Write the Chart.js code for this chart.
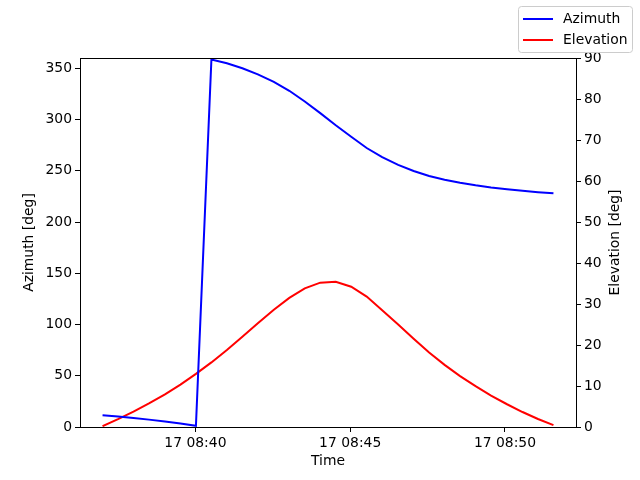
<!DOCTYPE html>
<html>
<head>
<meta charset="utf-8">
<script src="https://cdn.jsdelivr.net/npm/chart.js@4/dist/chart.umd.min.js"></script>
<style>
  html, body { margin: 0; padding: 0; background: #fff; }
  #wrap { width: 640px; height: 480px; }
</style>
</head>
<body>
<div id="wrap"><canvas id="chart" width="640" height="480"></canvas></div>
<script>
'use strict';

/* ── Data ── */
const times = [
  '08:37:00', '08:37:30', '08:38:00', '08:38:30', '08:39:01', '08:39:31',
  '08:40:01', '08:40:31', '08:41:01', '08:41:31', '08:42:01', '08:42:32',
  '08:43:02', '08:43:32', '08:44:02', '08:44:32', '08:45:02', '08:45:32',
  '08:46:02', '08:46:33', '08:47:03', '08:47:33', '08:48:03', '08:48:33',
  '08:49:03', '08:49:33', '08:50:04', '08:50:34', '08:51:04', '08:51:34'
];
const azimuth = [
  11.5, 10.2, 8.8, 7.2, 5.4, 3.4,
  1.2, 358.5, 354.8, 350.0, 344.0, 336.8,
  328.0, 317.6, 306.2, 294.4, 283.2, 272.2,
  263.2, 255.8, 249.8, 244.9, 241.3, 238.3,
  235.8, 233.7, 231.9, 230.4, 229.1, 228.0
];
const elevation = [
  0.2, 1.9, 3.75, 5.75, 7.95, 10.35,
  12.95, 15.75, 18.8, 22.0, 25.3, 28.6,
  31.5, 33.8, 35.2, 35.4, 34.2, 31.8,
  28.5, 25.0, 21.5, 18.15, 15.15, 12.4,
  9.95, 7.65, 5.55, 3.65, 1.95, 0.45
];
const azTicks = [0, 50, 100, 150, 200, 250, 300, 350];
const elTicks = [0, 10, 20, 30, 40, 50, 60, 70, 80, 90];
const timeTicks = ['08:40', '08:45', '08:50'];
const dayLabel = '17';

/* ── Helpers ── */
// minutes since midnight
function toMin(s) {
  const p = s.split(':').map(Number);
  return p[0] * 60 + p[1] + (p[2] || 0) / 60;
}
function pad2(n) { return String(n).padStart(2, '0'); }

const xs = times.map(toMin);
const xMin = Math.min(...xs), xMax = Math.max(...xs);
const xPad = (xMax - xMin) * 0.05;   // matplotlib default margin

const FONT = { family: "'DejaVu Sans', sans-serif", size: 13.9 };
const FONT_CSS = `${FONT.size}px ${FONT.family}`;

/* ── Plugins ── */
const framePlugin = {
  id: 'frame',
  afterDatasetsDraw(chart) {
    const { ctx, chartArea: a } = chart;
    ctx.save();
    ctx.strokeStyle = '#000';
    ctx.lineWidth = 1;
    ctx.strokeRect(Math.round(a.left) + 0.5, Math.round(a.top) + 0.5,
                   Math.round(a.right - a.left), Math.round(a.bottom - a.top));
    ctx.restore();
  }
};

// right axis title reads bottom-to-top like matplotlib's
const rightTitlePlugin = {
  id: 'rightTitle',
  afterDraw(chart) {
    const { ctx, chartArea: a } = chart;
    ctx.save();
    ctx.translate(615, (a.top + a.bottom) / 2);
    ctx.rotate(-Math.PI / 2);
    ctx.font = FONT_CSS;
    ctx.fillStyle = '#000';
    ctx.textAlign = 'center';
    ctx.textBaseline = 'middle';
    ctx.fillText('Elevation [deg]', 0, 0);
    ctx.restore();
  }
};

const legendPlugin = {
  id: 'figLegend',
  afterDraw(chart) {
    const ctx = chart.ctx;
    const box = { x: 518.5, y: 6.5, w: 114, h: 46, r: 3 };
    ctx.save();
    ctx.beginPath();
    ctx.roundRect(box.x, box.y, box.w, box.h, box.r);
    ctx.fillStyle = 'rgba(255,255,255,0.8)';
    ctx.fill();
    ctx.strokeStyle = '#cccccc';
    ctx.lineWidth = 1;
    ctx.stroke();
    ctx.font = FONT_CSS;
    ctx.textBaseline = 'middle';
    ctx.fillStyle = '#000';
    chart.data.datasets.forEach((ds, i) => {
      const y = 19 + i * 21;
      ctx.beginPath();
      ctx.moveTo(523, y);
      ctx.lineTo(553, y);
      ctx.strokeStyle = ds.borderColor;
      ctx.lineWidth = 2;
      ctx.stroke();
      ctx.fillText(ds.label, 563, y);
    });
    ctx.restore();
  }
};

/* ── Chart ── */
const axisCommon = {
  grid: { drawOnChartArea: false, color: '#000', tickLength: 5, lineWidth: 1 },
  border: { display: false },
  ticks: { color: '#000', font: FONT, padding: 3 }
};

new Chart(document.getElementById('chart'), {
  type: 'line',
  data: {
    datasets: [
      {
        label: 'Azimuth',
        data: xs.map((x, i) => ({ x, y: azimuth[i] })),
        borderColor: '#0000ff',
        borderWidth: 2,
        pointRadius: 0,
        tension: 0,
        yAxisID: 'yA'
      },
      {
        label: 'Elevation',
        data: xs.map((x, i) => ({ x, y: elevation[i] })),
        borderColor: '#ff0000',
        borderWidth: 2,
        pointRadius: 0,
        tension: 0,
        yAxisID: 'yE'
      }
    ]
  },
  options: {
    responsive: false,
    animation: false,
    devicePixelRatio: 1,
    layout: { padding: { top: 58, left: 0, right: 0, bottom: 0 } },
    plugins: { legend: { display: false }, tooltip: { enabled: false } },
    scales: {
      x: {
        ...axisCommon,
        type: 'linear',
        min: xMin - xPad,
        max: xMax + xPad,
        afterBuildTicks: s => { s.ticks = timeTicks.map(t => ({ value: toMin(t) })); },
        afterFit: s => { s.height = 53; },
        ticks: {
          ...axisCommon.ticks,
          maxRotation: 0,
          callback: v => `${dayLabel} ${pad2(Math.floor(v / 60))}:${pad2(Math.round(v % 60))}`
        },
        title: { display: true, text: 'Time', color: '#000', font: FONT, padding: { top: 0, bottom: 10 } }
      },
      yA: {
        ...axisCommon,
        position: 'left',
        min: 0,
        max: 360,
        afterBuildTicks: s => { s.ticks = azTicks.map(v => ({ value: v })); },
        afterFit: s => { s.width = 80; },
        title: { display: true, text: 'Azimuth [deg]', color: '#000', font: FONT, padding: { top: 21.5, bottom: 0 } }
      },
      yE: {
        ...axisCommon,
        position: 'right',
        min: 0,
        max: 90,
        afterBuildTicks: s => { s.ticks = elTicks.map(v => ({ value: v })); },
        afterFit: s => { s.width = 64; },
        title: { display: false }
      }
    }
  },
  plugins: [framePlugin, rightTitlePlugin, legendPlugin]
});
</script>
</body>
</html>
